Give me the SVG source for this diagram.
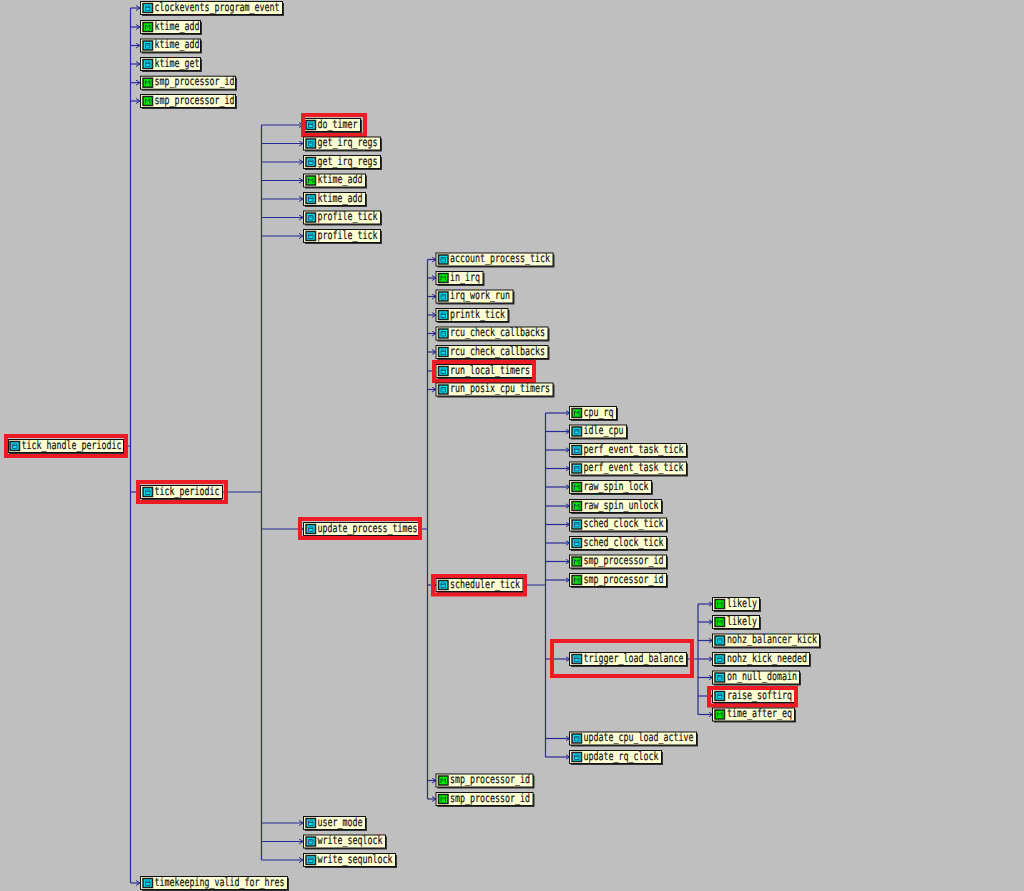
<svg xmlns="http://www.w3.org/2000/svg" width="1024" height="891" viewBox="0 0 1024 891">
<style>
.b{fill:#ffffd4;stroke:#111;stroke-width:1}
.s{fill:#333}
.t{font-family:"DejaVu Sans Mono","Liberation Mono",monospace;font-size:11.500px;fill:#111;stroke:#111;stroke-width:.2;text-rendering:geometricPrecision;transform:translateY(-1px)}
.l{fill:none;stroke:#2a2a96;stroke-width:1.2}
.e{marker-end:url(#a)}
.r{fill:none;stroke:#ed1c24;stroke-width:4}
.ic{stroke:#222;stroke-width:1.500}
</style>
<defs>
<marker id="a" markerWidth="5" markerHeight="6" refX="4" refY="3" orient="auto" markerUnits="userSpaceOnUse"><path d="M0 0.500L4 3L0 5.500" fill="none" stroke="#2a2a96"/></marker>
<g id="c"><rect class="ic" x="1" y="-4.500" width="9.500" height="9" fill="#00dcea"/><path d="M3.500 -2H8V2.500H3.500Z M3.500 -0.500H8" fill="none" stroke="#0a6a88"/></g>
<g id="g"><rect class="ic" x="1" y="-4.500" width="9.500" height="9" fill="#00e800"/><path d="M3.500 2.500V-2L5.700 0L8 -2V2.500" fill="none" stroke="#053"/></g>
</defs>
<rect width="1024" height="891" fill="#bfbfbf"/>
<g id="connectors" class="l">
<path d="M130.500 8V883M124 446H130.500"/>
<path class="e" d="M130.500 8H140"/><path class="e" d="M130.500 27H140"/><path class="e" d="M130.500 45.500H140"/><path class="e" d="M130.500 64H140"/><path class="e" d="M130.500 82.700H140"/><path class="e" d="M130.500 101H140"/><path class="e" d="M130.500 492H140"/><path class="e" d="M130.500 883H140"/>
<path d="M222 492H261.500M261.500 125V860"/>
<path class="e" d="M261.500 125H303"/><path class="e" d="M261.500 143.500H303"/><path class="e" d="M261.500 162H303"/><path class="e" d="M261.500 180.500H303"/><path class="e" d="M261.500 199H303"/><path class="e" d="M261.500 217.500H303"/><path class="e" d="M261.500 236H303"/><path class="e" d="M261.500 529H303"/><path class="e" d="M261.500 823H303"/><path class="e" d="M261.500 841.500H303"/><path class="e" d="M261.500 860H303"/>
<path d="M420 529H427.500M427.500 259.500V799"/>
<path class="e" d="M427.500 259.500H436"/><path class="e" d="M427.500 278H436"/><path class="e" d="M427.500 296.500H436"/><path class="e" d="M427.500 315H436"/><path class="e" d="M427.500 333.500H436"/><path class="e" d="M427.500 352H436"/><path class="e" d="M427.500 371H436"/><path class="e" d="M427.500 389.500H436"/><path class="e" d="M427.500 585H436"/><path class="e" d="M427.500 780.500H436"/><path class="e" d="M427.500 799H436"/>
<path d="M523 585H545.500M545.500 413V757"/>
<path class="e" d="M545.500 413H569.500"/><path class="e" d="M545.500 431.500H569.500"/><path class="e" d="M545.500 450H569.500"/><path class="e" d="M545.500 468.500H569.500"/><path class="e" d="M545.500 487H569.500"/><path class="e" d="M545.500 506H569.500"/><path class="e" d="M545.500 524.500H569.500"/><path class="e" d="M545.500 543H569.500"/><path class="e" d="M545.500 561.500H569.500"/><path class="e" d="M545.500 580H569.500"/><path class="e" d="M545.500 659H569.500"/><path class="e" d="M545.500 738.500H569.500"/><path class="e" d="M545.500 757H569.500"/>
<path d="M688 659H698M698 604V714.500"/>
<path class="e" d="M698 604H712.500"/><path class="e" d="M698 622H712.500"/><path class="e" d="M698 640.500H712.500"/><path class="e" d="M698 659H712.500"/><path class="e" d="M698 677.500H712.500"/><path class="e" d="M698 696H712.500"/><path class="e" d="M698 714.500H712.500"/>
</g>
<g id="n1"><rect class="s" x="142" y="3" width="142" height="13"/><rect class="b" x="140.500" y="1.500" width="142" height="13"/><use href="#c" x="142" y="8"/><text class="t" x="154.500" y="11.500" textLength="125" lengthAdjust="spacingAndGlyphs">clockevents_program_event</text></g>
<g id="n2"><rect class="s" x="142" y="22" width="60" height="13"/><rect class="b" x="140.500" y="20.500" width="60" height="13"/><use href="#g" x="142" y="27"/><text class="t" x="154.500" y="30.500" textLength="45" lengthAdjust="spacingAndGlyphs">ktime_add</text></g>
<g id="n3"><rect class="s" x="142" y="40.500" width="60" height="13"/><rect class="b" x="140.500" y="39" width="60" height="13"/><use href="#c" x="142" y="45.500"/><text class="t" x="154.500" y="49" textLength="45" lengthAdjust="spacingAndGlyphs">ktime_add</text></g>
<g id="n4"><rect class="s" x="142" y="59" width="60" height="13"/><rect class="b" x="140.500" y="57.500" width="60" height="13"/><use href="#c" x="142" y="64"/><text class="t" x="154.500" y="67.500" textLength="45" lengthAdjust="spacingAndGlyphs">ktime_get</text></g>
<g id="n5"><rect class="s" x="142" y="77.700" width="95" height="13"/><rect class="b" x="140.500" y="76.200" width="95" height="13"/><use href="#g" x="142" y="82.700"/><text class="t" x="154.500" y="86.200" textLength="80" lengthAdjust="spacingAndGlyphs">smp_processor_id</text></g>
<g id="n6"><rect class="s" x="142" y="96" width="95" height="13"/><rect class="b" x="140.500" y="94.500" width="95" height="13"/><use href="#g" x="142" y="101"/><text class="t" x="154.500" y="104.500" textLength="80" lengthAdjust="spacingAndGlyphs">smp_processor_id</text></g>
<g id="tick_handle_periodic"><rect class="s" x="9" y="441" width="115" height="13"/><rect class="b" x="8.500" y="439.500" width="115" height="13"/><use href="#c" x="9" y="446"/><text class="t" x="21.500" y="449.500" textLength="100" lengthAdjust="spacingAndGlyphs">tick_handle_periodic</text><rect class="r" x="6" y="436" width="120" height="20"/></g>
<g id="tick_periodic"><rect class="s" x="142" y="487" width="80" height="13"/><rect class="b" x="140.500" y="485.500" width="82" height="13"/><use href="#c" x="142" y="492"/><text class="t" x="154.500" y="495.500" textLength="65" lengthAdjust="spacingAndGlyphs">tick_periodic</text><rect class="r" x="138" y="482" width="88" height="20"/></g>
<g id="n7"><rect class="s" x="142" y="878" width="147" height="13"/><rect class="b" x="140.500" y="876.500" width="147" height="13"/><use href="#c" x="142" y="883"/><text class="t" x="154.500" y="886.500" textLength="130" lengthAdjust="spacingAndGlyphs">timekeeping_valid_for_hres</text></g>

<g id="do_timer"><rect class="s" x="305" y="120" width="57" height="13"/><rect class="b" x="303.500" y="118.500" width="57" height="13"/><use href="#c" x="305" y="125"/><text class="t" x="317.500" y="128.500" textLength="40" lengthAdjust="spacingAndGlyphs">do_timer</text><rect class="r" x="303" y="115" width="62" height="20"/></g>
<g id="n8"><rect class="s" x="305" y="138.500" width="77" height="13"/><rect class="b" x="303.500" y="137" width="77" height="13"/><use href="#c" x="305" y="143.500"/><text class="t" x="317.500" y="147" textLength="60" lengthAdjust="spacingAndGlyphs">get_irq_regs</text></g>
<g id="n9"><rect class="s" x="305" y="157" width="77" height="13"/><rect class="b" x="303.500" y="155.500" width="77" height="13"/><use href="#c" x="305" y="162"/><text class="t" x="317.500" y="165.500" textLength="60" lengthAdjust="spacingAndGlyphs">get_irq_regs</text></g>
<g id="n10"><rect class="s" x="305" y="175.500" width="62" height="13"/><rect class="b" x="303.500" y="174" width="62" height="13"/><use href="#g" x="305" y="180.500"/><text class="t" x="317.500" y="184" textLength="45" lengthAdjust="spacingAndGlyphs">ktime_add</text></g>
<g id="n11"><rect class="s" x="305" y="194" width="62" height="13"/><rect class="b" x="303.500" y="192.500" width="62" height="13"/><use href="#c" x="305" y="199"/><text class="t" x="317.500" y="202.500" textLength="45" lengthAdjust="spacingAndGlyphs">ktime_add</text></g>
<g id="n12"><rect class="s" x="305" y="212.500" width="77" height="13"/><rect class="b" x="303.500" y="211" width="77" height="13"/><use href="#c" x="305" y="217.500"/><text class="t" x="317.500" y="221" textLength="60" lengthAdjust="spacingAndGlyphs">profile_tick</text></g>
<g id="n13"><rect class="s" x="305" y="231" width="77" height="13"/><rect class="b" x="303.500" y="229.500" width="77" height="13"/><use href="#c" x="305" y="236"/><text class="t" x="317.500" y="239.500" textLength="60" lengthAdjust="spacingAndGlyphs">profile_tick</text></g>
<g id="update_process_times"><rect class="s" x="305" y="524" width="116" height="13"/><rect class="b" x="303.500" y="522.500" width="116" height="13"/><use href="#c" x="305" y="529"/><text class="t" x="317.500" y="532.500" textLength="100" lengthAdjust="spacingAndGlyphs">update_process_times</text><rect class="r" x="300" y="519" width="120" height="19"/></g>
<g id="n14"><rect class="s" x="305" y="818" width="62" height="13"/><rect class="b" x="303.500" y="816.500" width="62" height="13"/><use href="#c" x="305" y="823"/><text class="t" x="317.500" y="826.500" textLength="45" lengthAdjust="spacingAndGlyphs">user_mode</text></g>
<g id="n15"><rect class="s" x="305" y="836.500" width="82" height="13"/><rect class="b" x="303.500" y="835" width="82" height="13"/><use href="#c" x="305" y="841.500"/><text class="t" x="317.500" y="845" textLength="65" lengthAdjust="spacingAndGlyphs">write_seqlock</text></g>
<g id="n16"><rect class="s" x="305" y="855" width="92" height="13"/><rect class="b" x="303.500" y="853.500" width="92" height="13"/><use href="#c" x="305" y="860"/><text class="t" x="317.500" y="863.500" textLength="75" lengthAdjust="spacingAndGlyphs">write_sequnlock</text></g>

<g id="n17"><rect class="s" x="437.500" y="254.500" width="117" height="13"/><rect class="b" x="436" y="253" width="117" height="13"/><use href="#c" x="437.500" y="259.500"/><text class="t" x="450" y="263" textLength="100" lengthAdjust="spacingAndGlyphs">account_process_tick</text></g>
<g id="n18"><rect class="s" x="437.500" y="273" width="47" height="13"/><rect class="b" x="436" y="271.500" width="47" height="13"/><use href="#g" x="437.500" y="278"/><text class="t" x="450" y="281.500" textLength="30" lengthAdjust="spacingAndGlyphs">in_irq</text></g>
<g id="n19"><rect class="s" x="437.500" y="291.500" width="77" height="13"/><rect class="b" x="436" y="290" width="77" height="13"/><use href="#c" x="437.500" y="296.500"/><text class="t" x="450" y="300" textLength="60" lengthAdjust="spacingAndGlyphs">irq_work_run</text></g>
<g id="n20"><rect class="s" x="437.500" y="310" width="72" height="13"/><rect class="b" x="436" y="308.500" width="72" height="13"/><use href="#c" x="437.500" y="315"/><text class="t" x="450" y="318.500" textLength="55" lengthAdjust="spacingAndGlyphs">printk_tick</text></g>
<g id="n21"><rect class="s" x="437.500" y="328.500" width="112" height="13"/><rect class="b" x="436" y="327" width="112" height="13"/><use href="#c" x="437.500" y="333.500"/><text class="t" x="450" y="337" textLength="95" lengthAdjust="spacingAndGlyphs">rcu_check_callbacks</text></g>
<g id="n22"><rect class="s" x="437.500" y="347" width="112" height="13"/><rect class="b" x="436" y="345.500" width="112" height="13"/><use href="#c" x="437.500" y="352"/><text class="t" x="450" y="355.500" textLength="95" lengthAdjust="spacingAndGlyphs">rcu_check_callbacks</text></g>
<g id="run_local_timers"><rect class="s" x="437.500" y="366" width="97" height="13"/><rect class="b" x="436" y="364.500" width="97" height="13"/><use href="#c" x="437.500" y="371"/><text class="t" x="450" y="374.500" textLength="80" lengthAdjust="spacingAndGlyphs">run_local_timers</text><rect class="r" x="434" y="362" width="100" height="19"/></g>
<g id="n23"><rect class="s" x="437.500" y="384.500" width="117" height="13"/><rect class="b" x="436" y="383" width="117" height="13"/><use href="#c" x="437.500" y="389.500"/><text class="t" x="450" y="393" textLength="100" lengthAdjust="spacingAndGlyphs">run_posix_cpu_timers</text></g>
<g id="scheduler_tick"><rect class="s" x="437.500" y="580" width="87" height="13"/><rect class="b" x="436" y="578.500" width="87" height="13"/><use href="#c" x="437.500" y="585"/><text class="t" x="450" y="588.500" textLength="70" lengthAdjust="spacingAndGlyphs">scheduler_tick</text><rect class="r" x="433" y="576" width="92" height="18.500"/></g>
<g id="n24"><rect class="s" x="437.500" y="775.500" width="97" height="13"/><rect class="b" x="436" y="774" width="97" height="13"/><use href="#g" x="437.500" y="780.500"/><text class="t" x="450" y="784" textLength="80" lengthAdjust="spacingAndGlyphs">smp_processor_id</text></g>
<g id="n25"><rect class="s" x="437.500" y="794" width="97" height="13"/><rect class="b" x="436" y="792.500" width="97" height="13"/><use href="#g" x="437.500" y="799"/><text class="t" x="450" y="802.500" textLength="80" lengthAdjust="spacingAndGlyphs">smp_processor_id</text></g>

<g id="n26"><rect class="s" x="571" y="408" width="47" height="13"/><rect class="b" x="569.500" y="406.500" width="47" height="13"/><use href="#g" x="571" y="413"/><text class="t" x="583.500" y="416.500" textLength="30" lengthAdjust="spacingAndGlyphs">cpu_rq</text></g>
<g id="n27"><rect class="s" x="571" y="426.500" width="57" height="13"/><rect class="b" x="569.500" y="425" width="57" height="13"/><use href="#c" x="571" y="431.500"/><text class="t" x="583.500" y="435" textLength="40" lengthAdjust="spacingAndGlyphs">idle_cpu</text></g>
<g id="n28"><rect class="s" x="571" y="445" width="117" height="13"/><rect class="b" x="569.500" y="443.500" width="117" height="13"/><use href="#c" x="571" y="450"/><text class="t" x="583.500" y="453.500" textLength="100" lengthAdjust="spacingAndGlyphs">perf_event_task_tick</text></g>
<g id="n29"><rect class="s" x="571" y="463.500" width="117" height="13"/><rect class="b" x="569.500" y="462" width="117" height="13"/><use href="#c" x="571" y="468.500"/><text class="t" x="583.500" y="472" textLength="100" lengthAdjust="spacingAndGlyphs">perf_event_task_tick</text></g>
<g id="n30"><rect class="s" x="571" y="482" width="82" height="13"/><rect class="b" x="569.500" y="480.500" width="82" height="13"/><use href="#g" x="571" y="487"/><text class="t" x="583.500" y="490.500" textLength="65" lengthAdjust="spacingAndGlyphs">raw_spin_lock</text></g>
<g id="n31"><rect class="s" x="571" y="501" width="92" height="13"/><rect class="b" x="569.500" y="499.500" width="92" height="13"/><use href="#g" x="571" y="506"/><text class="t" x="583.500" y="509.500" textLength="75" lengthAdjust="spacingAndGlyphs">raw_spin_unlock</text></g>
<g id="n32"><rect class="s" x="571" y="519.500" width="97" height="13"/><rect class="b" x="569.500" y="518" width="97" height="13"/><use href="#c" x="571" y="524.500"/><text class="t" x="583.500" y="528" textLength="80" lengthAdjust="spacingAndGlyphs">sched_clock_tick</text></g>
<g id="n33"><rect class="s" x="571" y="538" width="97" height="13"/><rect class="b" x="569.500" y="536.500" width="97" height="13"/><use href="#c" x="571" y="543"/><text class="t" x="583.500" y="546.500" textLength="80" lengthAdjust="spacingAndGlyphs">sched_clock_tick</text></g>
<g id="n34"><rect class="s" x="571" y="556.500" width="97" height="13"/><rect class="b" x="569.500" y="555" width="97" height="13"/><use href="#g" x="571" y="561.500"/><text class="t" x="583.500" y="565" textLength="80" lengthAdjust="spacingAndGlyphs">smp_processor_id</text></g>
<g id="n35"><rect class="s" x="571" y="575" width="97" height="13"/><rect class="b" x="569.500" y="573.500" width="97" height="13"/><use href="#g" x="571" y="580"/><text class="t" x="583.500" y="583.500" textLength="80" lengthAdjust="spacingAndGlyphs">smp_processor_id</text></g>
<g id="trigger_load_balance"><rect class="s" x="571" y="654" width="117" height="13"/><rect class="b" x="569.500" y="652.500" width="117" height="13"/><use href="#c" x="571" y="659"/><text class="t" x="583.500" y="662.500" textLength="100" lengthAdjust="spacingAndGlyphs">trigger_load_balance</text><rect class="r" x="552" y="641" width="140" height="35"/></g>
<g id="n36"><rect class="s" x="571" y="733.500" width="127" height="13"/><rect class="b" x="569.500" y="732" width="127" height="13"/><use href="#c" x="571" y="738.500"/><text class="t" x="583.500" y="742" textLength="110" lengthAdjust="spacingAndGlyphs">update_cpu_load_active</text></g>
<g id="n37"><rect class="s" x="571" y="752" width="92" height="13"/><rect class="b" x="569.500" y="750.500" width="92" height="13"/><use href="#c" x="571" y="757"/><text class="t" x="583.500" y="760.500" textLength="75" lengthAdjust="spacingAndGlyphs">update_rq_clock</text></g>

<g id="n38"><rect class="s" x="714" y="599" width="47" height="13"/><rect class="b" x="712.500" y="597.500" width="47" height="13"/><use href="#g" x="714" y="604"/><text class="t" x="727" y="607.500" textLength="30" lengthAdjust="spacingAndGlyphs">likely</text></g>
<g id="n39"><rect class="s" x="714" y="617" width="47" height="13"/><rect class="b" x="712.500" y="615.500" width="47" height="13"/><use href="#g" x="714" y="622"/><text class="t" x="727" y="625.500" textLength="30" lengthAdjust="spacingAndGlyphs">likely</text></g>
<g id="n40"><rect class="s" x="714" y="635.500" width="107" height="13"/><rect class="b" x="712.500" y="634" width="107" height="13"/><use href="#c" x="714" y="640.500"/><text class="t" x="727" y="644" textLength="90" lengthAdjust="spacingAndGlyphs">nohz_balancer_kick</text></g>
<g id="n41"><rect class="s" x="714" y="654" width="97" height="13"/><rect class="b" x="712.500" y="652.500" width="97" height="13"/><use href="#c" x="714" y="659"/><text class="t" x="727" y="662.500" textLength="80" lengthAdjust="spacingAndGlyphs">nohz_kick_needed</text></g>
<g id="n42"><rect class="s" x="714" y="672.500" width="87" height="13"/><rect class="b" x="712.500" y="671" width="87" height="13"/><use href="#c" x="714" y="677.500"/><text class="t" x="727" y="681" textLength="70" lengthAdjust="spacingAndGlyphs">on_null_domain</text></g>
<g id="raise_softirq"><rect class="s" x="714" y="691" width="82" height="13"/><rect class="b" x="712.500" y="689.500" width="82" height="13"/><use href="#c" x="714" y="696"/><text class="t" x="727" y="699.500" textLength="65" lengthAdjust="spacingAndGlyphs">raise_softirq</text><rect class="r" x="709" y="688" width="87" height="17.500"/></g>
<g id="n43"><rect class="s" x="714" y="709.500" width="82" height="13"/><rect class="b" x="712.500" y="708" width="82" height="13"/><use href="#g" x="714" y="714.500"/><text class="t" x="727" y="718" textLength="65" lengthAdjust="spacingAndGlyphs">time_after_eq</text></g>
</svg>
